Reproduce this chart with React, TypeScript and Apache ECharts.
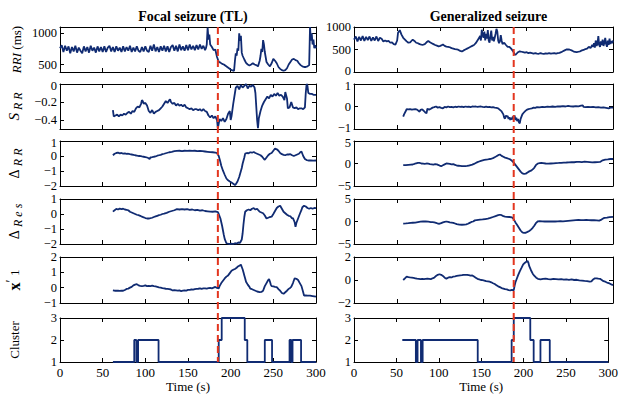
import React, { useEffect, useRef } from "react";
import * as echarts from "echarts";

// ---------------- data ----------------
const PANEL_TITLES = ["Focal seizure (TL)", "Generalized seizure"];
const SEIZURE_ONSET = 185;
const TIME_MIN = 0;
const TIME_MAX = 300;
const TIME_STEP = 50;

// Focal seizure (TL)
const focalRRI = [
  [0,760],[2,810],[4,700],[6,800],[8,720],[10,790],[12,680],[14,780],[16,710],[18,800],[20,690],[22,770],[24,720],[26,680],[28,790],[30,710],[32,780],[34,690],[36,800],[38,720],[40,770],[42,690],[44,790],[46,710],[48,780],[50,700],[52,790],[54,700],[56,770],[58,800],[60,710],[62,780],[64,700],[66,790],[68,720],[70,770],[72,700],[74,790],[76,710],[78,780],[80,720],[82,800],[84,700],[86,770],[88,710],[90,790],[92,720],[94,700],[96,780],[98,710],[100,790],[102,720],[104,700],[106,800],[108,720],[110,820],[112,710],[114,780],[116,700],[118,790],[120,720],[122,800],[124,710],[126,790],[128,700],[130,780],[132,810],[134,720],[136,800],[138,710],[140,820],[142,730],[144,790],[146,720],[148,810],[150,730],[152,820],[154,740],[156,800],[158,730],[160,810],[162,740],[164,820],[166,750],[168,800],[170,730],
  [171,760],[172,820],[173,1090],[174,900],[175,980],[176,820],[178,780],[180,730],[182,740],[184,620],[186,545],[188,530],[190,510],[192,500],[194,480],[196,460],[198,440],[200,420],[202,405],[204,400],[205,560],[206,680],[207,640],[208,760],[209,720],[210,1000],[211,880],[212,960],[213,690],[214,640],[216,580],[218,525],[220,500],[222,485],[224,500],[226,520],[228,500],[230,490],[232,470],[234,560],[235,640],[236,750],[237,700],[238,890],[239,820],[240,700],[241,620],[242,540],[244,500],[246,470],[248,520],[250,590],[252,560],[254,520],[256,460],[258,430],[260,410],[262,400],[264,410],[266,440],[268,500],[270,540],[272,580],[274,590],[276,570],[278,560],[280,520],[282,490],[284,470],[286,460],[288,460],[290,470],[292,490],[293,1100],[294,880],[295,1000],[296,820],[297,900],[298,760],[299,810],[300,760]
];
const focalSRR = [
  [62,-0.29],[63,-0.36],[65,-0.35],[67,-0.34],[69,-0.36],[71,-0.34],[73,-0.35],[75,-0.33],[77,-0.34],[79,-0.32],[81,-0.31],[83,-0.33],[85,-0.30],[87,-0.31],[89,-0.27],[91,-0.25],[93,-0.26],[95,-0.22],[96,-0.18],[97,-0.19],[98,-0.22],[100,-0.21],[102,-0.24],[104,-0.30],[106,-0.32],[108,-0.29],[110,-0.33],[112,-0.31],[114,-0.30],[116,-0.29],[118,-0.27],[120,-0.25],[122,-0.22],[124,-0.19],[126,-0.21],[128,-0.18],[129,-0.17],[130,-0.20],[132,-0.22],[134,-0.21],[136,-0.24],[138,-0.22],[140,-0.24],[142,-0.23],[144,-0.25],[146,-0.23],[148,-0.26],[150,-0.27],[152,-0.28],[154,-0.27],[156,-0.29],[158,-0.28],[160,-0.28],[162,-0.29],[164,-0.28],[166,-0.30],[168,-0.28],[170,-0.30],[172,-0.31],[174,-0.35],[176,-0.37],[178,-0.35],[180,-0.38],[182,-0.36],[184,-0.40],[185,-0.49],[186,-0.44],[187,-0.39],[189,-0.41],[191,-0.38],[193,-0.42],[195,-0.39],[197,-0.33],[199,-0.30],[200,-0.40],[201,-0.36],[203,-0.22],[205,-0.10],[206,-0.04],[208,-0.02],[210,-0.06],[212,-0.01],[214,-0.04],[216,-0.02],[218,0.0],[220,-0.05],[222,-0.02],[224,-0.03],[226,-0.01],[228,-0.04],[229,-0.10],[231,-0.40],[232,-0.49],[233,-0.38],[235,-0.30],[237,-0.24],[239,-0.20],[241,-0.17],[243,-0.14],[245,-0.16],[247,-0.12],[249,-0.14],[251,-0.11],[253,-0.13],[255,-0.10],[257,-0.13],[259,-0.12],[261,-0.14],[263,-0.18],[264,-0.09],[266,-0.16],[267,-0.27],[269,-0.26],[271,-0.20],[273,-0.26],[275,-0.27],[277,-0.26],[279,-0.28],[281,-0.27],[283,-0.27],[285,-0.28],[287,-0.26],[288,-0.10],[289,0.0],[290,-0.02],[291,-0.10],[293,-0.11],[295,-0.11],[297,-0.12],[300,-0.12]
];
const focalDRR = [
  [62,0.05],[64,0.15],[66,0.2],[68,0.22],[70,0.18],[72,0.2],[74,0.16],[76,0.17],[78,0.14],[80,0.15],[82,0.12],[84,0.1],[86,0.08],[88,0.05],[90,0.03],[92,0.0],[94,0.0],[96,-0.03],[98,-0.05],[100,-0.07],[102,-0.1],[104,-0.15],[105,-0.2],[106,-0.1],[108,-0.08],[110,-0.05],[112,-0.03],[114,0.02],[116,0.05],[118,0.08],[120,0.12],[122,0.15],[125,0.2],[128,0.25],[131,0.28],[134,0.32],[137,0.34],[140,0.35],[143,0.33],[146,0.35],[149,0.34],[152,0.36],[155,0.34],[158,0.35],[161,0.33],[164,0.34],[167,0.32],[170,0.3],[173,0.28],[176,0.26],[179,0.25],[182,0.23],[184,0.2],[186,0.0],[187.5,-0.3],[189,-0.65],[191,-0.98],[193,-1.25],[195,-1.5],[197,-1.62],[199,-1.7],[201,-1.77],[203,-1.85],[205,-1.93],[206,-1.88],[208,-1.7],[210,-1.4],[211,-1.2],[213,-0.8],[214,-0.52],[216,-0.1],[217,0.16],[219,0.2],[221,0.18],[223,0.25],[225,0.22],[227,0.27],[229,0.2],[231,0.15],[233,0.1],[235,0.05],[237,-0.05],[239,-0.2],[240,-0.25],[242,-0.1],[244,0.05],[246,0.15],[248,0.2],[250,0.35],[252,0.5],[254,0.45],[256,0.35],[258,0.2],[260,0.12],[262,0.08],[264,0.05],[266,0.1],[268,0.1],[270,0.12],[272,0.05],[274,0.0],[276,0.05],[278,0.1],[280,0.15],[282,0.27],[283,0.3],[284,0.15],[285,0.0],[287,-0.2],[289,-0.27],[291,-0.3],[294,-0.3],[297,-0.31],[300,-0.3]
];
const focalDRes = [
  [62,0.16],[64,0.25],[66,0.34],[68,0.3],[70,0.36],[72,0.33],[74,0.35],[76,0.3],[78,0.28],[80,0.25],[82,0.15],[84,0.1],[86,0.05],[88,0.0],[90,-0.05],[92,-0.08],[94,-0.12],[96,-0.18],[98,-0.22],[100,-0.27],[102,-0.3],[104,-0.3],[106,-0.28],[108,-0.25],[110,-0.2],[112,-0.16],[114,-0.12],[116,-0.08],[118,-0.05],[120,0.0],[122,0.03],[125,0.08],[128,0.15],[131,0.2],[134,0.25],[137,0.32],[140,0.3],[143,0.33],[146,0.3],[149,0.32],[152,0.28],[155,0.3],[158,0.25],[161,0.27],[164,0.22],[167,0.25],[170,0.2],[173,0.18],[176,0.16],[179,0.15],[182,0.17],[185,0.12],[186,0.0],[188,-0.3],[190,-0.8],[191,-1.1],[192,-1.4],[193,-1.66],[195,-1.95],[197,-1.98],[199,-2.0],[201,-1.97],[203,-2.0],[205,-1.95],[207,-1.97],[209,-1.9],[211,-1.92],[213,-1.7],[214,-1.3],[215,-0.7],[216,-0.2],[217,0.15],[219,0.25],[221,0.3],[223,0.25],[225,0.35],[227,0.39],[229,0.3],[231,0.35],[232,0.28],[234,0.15],[236,0.1],[238,0.05],[240,-0.1],[242,-0.3],[244,-0.25],[246,-0.2],[248,-0.18],[250,0.0],[252,0.2],[254,0.4],[256,0.5],[258,0.55],[260,0.35],[262,0.15],[264,0.05],[266,-0.05],[268,-0.12],[270,-0.15],[272,-0.3],[273,-0.28],[275,-0.55],[276,-0.86],[277,-0.6],[279,-0.3],[281,0.0],[283,0.27],[284,0.45],[286,0.55],[288,0.5],[290,0.4],[292,0.35],[294,0.4],[296,0.35],[298,0.4],[300,0.39]
];
const focalX1 = [
  [62,-0.18],[64,-0.2],[66,-0.19],[68,-0.2],[70,-0.21],[72,-0.2],[74,-0.2],[76,-0.15],[78,-0.08],[80,-0.06],[82,0.0],[84,0.05],[86,0.15],[88,0.2],[90,0.23],[92,0.15],[94,0.12],[96,0.1],[98,0.12],[100,0.15],[102,0.1],[104,0.12],[106,0.1],[108,0.13],[110,0.1],[112,0.08],[114,0.05],[116,0.02],[118,0.0],[120,-0.03],[122,-0.05],[124,-0.07],[126,-0.08],[128,-0.1],[130,-0.12],[132,-0.18],[134,-0.16],[136,-0.18],[138,-0.2],[140,-0.18],[142,-0.22],[144,-0.2],[146,-0.18],[148,-0.19],[150,-0.15],[152,-0.14],[154,-0.12],[156,-0.13],[158,-0.1],[160,-0.08],[162,-0.07],[164,-0.05],[166,-0.08],[168,-0.05],[170,-0.04],[172,-0.06],[174,-0.03],[176,-0.02],[178,-0.05],[180,0.0],[182,0.05],[184,-0.02],[186,-0.05],[187,0.1],[189,0.3],[191,0.45],[193,0.6],[195,0.72],[197,0.8],[199,0.95],[201,1.1],[203,1.17],[205,1.22],[207,1.3],[209,1.4],[211,1.45],[212,1.5],[213,1.35],[214,1.2],[215,1.0],[216,0.8],[217,0.6],[218,0.38],[220,0.2],[222,0.05],[223,-0.07],[225,-0.1],[227,-0.15],[229,-0.2],[231,-0.25],[234,-0.29],[236,-0.28],[238,-0.2],[240,0.1],[242,0.3],[244,0.5],[245,0.56],[246,0.4],[247,0.2],[248,0.1],[250,0.08],[252,0.05],[254,0.03],[256,-0.1],[258,-0.2],[260,-0.35],[262,-0.4],[264,-0.3],[266,-0.2],[268,-0.08],[270,0.0],[271,0.05],[273,0.3],[275,0.61],[277,0.58],[279,0.5],[281,0.3],[283,0.1],[285,-0.3],[286,-0.52],[288,-0.5],[290,-0.52],[293,-0.52],[296,-0.55],[300,-0.59]
];
const focalCluster = [
  [62,1],[87,2],[89.5,1],[91.5,2],[115.5,1],[186,2],[189.5,3],[216.5,2],[219.5,1],[240,2],[248.5,1],[269,2],[271,1],[272.5,2],[282.5,1],[300,1]
];

// Generalized seizure
const genRRI = [
  [0,720],[2,790],[4,680],[6,780],[8,700],[10,800],[12,690],[14,780],[16,710],[18,790],[20,690],[22,770],[24,700],[26,790],[28,690],[30,760],[32,740],[34,680],[36,700],[38,680],[40,690],[42,650],[44,660],[46,620],[48,610],[50,700],[51,870],[53,930],[55,830],[57,760],[59,720],[61,680],[63,650],[65,660],[67,700],[68,720],[70,690],[72,650],[74,640],[76,620],[78,610],[80,605],[82,620],[84,660],[86,690],[88,660],[90,640],[92,620],[94,600],[96,585],[98,570],[100,580],[102,600],[103,610],[105,580],[107,565],[109,560],[111,550],[113,530],[115,520],[117,510],[119,505],[121,490],[123,470],[125,455],[127,480],[129,500],[131,520],[133,540],[135,560],[137,580],[139,600],[141,640],[143,700],[145,760],[146,800],[147,700],[148,940],[149,820],[150,760],[151,900],[152,700],[153,850],[154,740],[155,930],[156,700],[157,650],[158,800],[159,920],[160,700],[161,780],[162,680],[163,760],[164,850],[165,960],[166,900],[167,700],[168,640],[169,680],[170,820],[171,700],[172,620],[174,650],[176,600],[178,560],[180,560],[182,520],[184,470],[186,400],[187,380],[188,400],[190,440],[192,460],[194,450],[196,440],[198,430],[200,440],[202,420],[204,430],[206,420],[208,410],[210,420],[212,410],[214,405],[216,420],[218,410],[220,405],[222,415],[224,410],[226,420],[228,410],[230,415],[232,420],[234,410],[236,420],[238,425],[240,440],[242,460],[244,480],[246,500],[248,505],[250,495],[252,480],[254,460],[256,445],[258,440],[260,450],[262,460],[264,480],[266,490],[268,510],[270,520],[272,560],[274,530],[276,600],[277,560],[278,640],[279,540],[280,700],[281,580],[282,620],[283,800],[284,600],[285,560],[286,680],[287,600],[288,720],[289,580],[290,650],[291,760],[292,620],[293,560],[294,700],[295,600],[296,740],[297,620],[298,690],[299,640],[300,700]
];
const genSRR = [
  [57,-0.45],[58,-0.35],[60,-0.2],[61,-0.12],[63,-0.13],[65,-0.12],[67,-0.14],[69,-0.13],[71,-0.12],[73,-0.14],[75,-0.2],[76,-0.23],[77,-0.15],[79,-0.13],[81,-0.2],[83,-0.28],[84,-0.3],[85,-0.1],[87,-0.14],[89,-0.1],[91,-0.05],[93,-0.03],[95,0.0],[97,-0.05],[99,-0.03],[101,-0.06],[103,-0.08],[105,-0.02],[107,-0.04],[109,0.0],[111,-0.03],[113,-0.02],[115,-0.04],[117,-0.01],[119,-0.03],[121,0.0],[123,-0.02],[125,-0.01],[127,-0.03],[129,0.0],[131,-0.02],[133,-0.01],[135,-0.03],[137,0.0],[139,-0.01],[141,0.0],[143,-0.02],[145,-0.01],[147,0.0],[149,-0.02],[151,-0.03],[153,-0.01],[155,-0.03],[157,-0.02],[159,-0.04],[161,-0.03],[163,-0.05],[165,-0.06],[167,-0.08],[169,-0.15],[171,-0.22],[173,-0.35],[174,-0.5],[175,-0.53],[176,-0.4],[177,-0.45],[178,-0.42],[179,-0.55],[180,-0.48],[181,-0.6],[182,-0.5],[183,-0.58],[184,-0.45],[185,-0.55],[186,-0.4],[187,-0.6],[188,-0.5],[189,-0.65],[190,-0.55],[191,-0.7],[192,-0.75],[193,-0.55],[194,-0.45],[195,-0.35],[196,-0.3],[198,-0.22],[200,-0.15],[202,-0.12],[204,-0.1],[206,-0.08],[208,-0.05],[210,-0.06],[212,-0.03],[215,-0.04],[218,-0.02],[221,-0.03],[224,-0.01],[227,-0.02],[230,0.0],[233,-0.02],[236,0.01],[239,0.0],[242,0.02],[245,0.0],[248,0.03],[251,0.01],[254,0.0],[257,0.02],[260,0.01],[263,0.04],[265,0.05],[266,-0.02],[268,-0.03],[271,-0.02],[274,-0.03],[277,-0.02],[280,-0.04],[283,-0.03],[286,-0.05],[289,-0.04],[292,-0.06],[295,-0.08],[297,-0.05],[300,-0.05]
];
const genDRR = [
  [57,-0.38],[60,-0.35],[63,-0.3],[66,-0.25],[68,-0.22],[70,-0.1],[72,0.05],[74,0.15],[76,0.12],[78,0.0],[80,-0.05],[82,-0.1],[84,0.0],[86,-0.05],[88,-0.15],[90,-0.2],[92,-0.25],[94,-0.15],[96,-0.2],[98,-0.35],[100,-0.55],[101,-0.6],[103,-0.4],[105,-0.2],[107,0.0],[109,-0.05],[111,-0.1],[113,-0.2],[115,-0.15],[117,-0.3],[119,-0.45],[121,-0.5],[123,-0.55],[125,-0.6],[127,-0.6],[129,-0.58],[131,-0.55],[133,-0.45],[135,-0.35],[137,-0.25],[139,-0.1],[141,0.1],[143,0.3],[145,0.45],[147,0.6],[149,0.7],[151,0.8],[153,0.85],[155,0.9],[157,1.0],[159,1.05],[161,1.2],[163,1.4],[165,1.6],[167,1.85],[169,2.0],[171,1.7],[173,1.5],[175,1.3],[177,1.2],[179,1.05],[181,0.9],[183,0.6],[185,0.2],[187,-0.3],[189,-0.8],[191,-1.3],[193,-1.8],[195,-2.2],[197,-2.3],[199,-2.25],[201,-2.0],[203,-1.75],[205,-1.6],[207,-1.3],[209,-0.9],[211,-0.3],[213,0.0],[215,0.1],[217,0.15],[219,0.1],[222,0.0],[225,-0.05],[228,0.0],[231,0.05],[234,0.1],[237,0.12],[240,0.15],[243,0.2],[246,0.22],[249,0.25],[252,0.3],[255,0.28],[258,0.35],[261,0.38],[264,0.32],[267,0.4],[270,0.35],[273,0.3],[276,0.25],[279,0.28],[282,0.3],[285,0.35],[288,0.7],[291,0.85],[294,0.9],[297,1.0],[300,1.0]
];
const genDRes = [
  [57,-0.45],[60,-0.42],[63,-0.38],[66,-0.3],[68,-0.28],[71,-0.25],[74,-0.15],[77,-0.05],[80,0.0],[83,0.0],[86,-0.05],[89,-0.12],[91,-0.15],[93,-0.2],[95,-0.3],[97,-0.45],[99,-0.5],[101,-0.35],[103,-0.2],[105,-0.1],[107,0.0],[109,-0.1],[111,-0.2],[113,-0.25],[115,-0.3],[117,-0.45],[119,-0.6],[122,-0.7],[125,-0.72],[128,-0.68],[130,-0.65],[132,-0.5],[134,-0.3],[136,-0.1],[138,0.0],[140,0.25],[142,0.3],[144,0.35],[146,0.4],[149,0.45],[152,0.55],[155,0.65],[158,0.8],[161,1.0],[164,1.2],[167,1.4],[169,1.5],[171,1.4],[173,1.2],[175,1.1],[177,1.05],[180,1.0],[183,0.9],[185,0.5],[187,-0.2],[189,-0.8],[191,-1.4],[193,-2.0],[195,-2.4],[197,-2.55],[199,-2.5],[201,-2.3],[203,-2.1],[205,-1.8],[207,-1.4],[209,-0.9],[211,-0.3],[213,0.05],[215,0.1],[218,0.05],[221,0.0],[224,0.0],[227,0.0],[230,0.05],[233,0.0],[236,0.05],[239,0.1],[242,0.05],[245,0.1],[248,0.15],[251,0.2],[254,0.25],[257,0.3],[260,0.35],[263,0.3],[266,0.32],[269,0.35],[272,0.3],[275,0.28],[278,0.3],[281,0.25],[284,0.2],[286,0.35],[288,0.6],[290,0.8],[293,0.85],[296,0.95],[300,1.05]
];
const genX1 = [
  [57,0.0],[59,0.15],[61,0.3],[63,0.25],[65,0.22],[67,0.2],[69,0.18],[71,0.15],[73,0.12],[75,0.1],[77,0.08],[79,0.1],[81,0.08],[83,0.1],[85,0.12],[87,0.1],[89,0.08],[91,0.15],[93,0.2],[95,0.35],[97,0.45],[99,0.5],[101,0.45],[103,0.35],[105,0.2],[107,0.12],[109,0.2],[111,0.25],[113,0.22],[115,0.3],[117,0.32],[119,0.35],[121,0.38],[123,0.4],[125,0.42],[127,0.45],[129,0.44],[131,0.45],[133,0.42],[135,0.38],[137,0.4],[139,0.3],[141,0.2],[143,0.1],[145,0.05],[147,0.0],[149,-0.02],[151,-0.05],[153,-0.1],[155,-0.12],[157,-0.15],[159,-0.2],[161,-0.28],[163,-0.35],[165,-0.45],[167,-0.55],[169,-0.62],[171,-0.7],[173,-0.75],[175,-0.8],[177,-0.82],[179,-0.88],[181,-0.9],[183,-0.85],[185,-0.9],[186,-0.5],[187,-0.2],[188,0.0],[190,0.4],[192,0.75],[194,1.05],[196,1.36],[198,1.5],[200,1.6],[201,1.65],[202,1.5],[203,1.2],[205,0.85],[207,0.55],[209,0.35],[211,0.2],[213,0.1],[216,0.05],[219,0.1],[222,0.12],[225,0.08],[228,0.05],[231,0.1],[234,0.08],[237,0.05],[240,0.08],[243,0.03],[246,0.05],[249,0.02],[252,0.05],[255,0.0],[258,0.02],[261,-0.03],[264,-0.05],[267,-0.08],[270,-0.1],[273,-0.15],[275,-0.12],[277,0.05],[279,0.15],[281,0.15],[283,0.12],[285,0.1],[287,0.0],[289,-0.1],[291,-0.15],[293,-0.22],[296,-0.3],[298,-0.38],[300,-0.45]
];
const genCluster = [
  [57,2],[73,1],[75,2],[79,1],[81,2],[146,1],[186,2],[188.5,3],[208,2],[212,1],[220,2],[231,1],[300,1]
];

const FOCAL_SERIES = [focalRRI, focalSRR, focalDRR, focalDRes, focalX1, focalCluster];
const GEN_SERIES = [genRRI, genSRR, genDRR, genDRes, genX1, genCluster];

const FOCAL_Y_RANGE = [[380, 1100], [-0.5, 0], [-2, 1], [-2, 1], [-1, 2], [1, 3]];
const FOCAL_Y_TICKS = [[500, 1000], [-0.4, -0.2, 0], [-2, -1, 0, 1], [-2, -1, 0, 1], [-1, 0, 1, 2], [1, 2, 3]];
const GEN_Y_RANGE = [[0, 1000], [-1, 1], [-5, 5], [-5, 5], [-2, 2], [1, 3]];
const GEN_Y_TICKS = [[0, 500, 1000], [-1, 0, 1], [-5, 0, 5], [-5, 0, 5], [-2, 0, 2], [1, 2, 3]];

const Y_NAMES = [
  "{i|RRI} {n|(ms)}",
  "{big|S}{sub| R R}",
  "{d|\u0394} {sub|R R}",
  "{d|\u0394} {sub|R e s}",
  "{bx|x}{pr|\u2032} {n|1}",
  "{n|Cluster}",
];

// ---------------- layout / style ----------------
const FONT = "'Liberation Serif', 'Times New Roman', serif";
const LINE_COLOR = "#102b72";
const ONSET_COLOR = "#e3361f";
const COL_LEFT = [60, 354];
const COL_WIDTH = [256, 259];
const ROW_TOP = [27, 84, 141, 199, 257, 318];
const ROW_H = [45, 45, 45, 45, 46, 44];
const TICK_FONT = 12.5;

const fmt = (v: number) => String(v).replace("-", "\u2212");

export default function App() {
  const ref = useRef<HTMLDivElement>(null);
  useEffect(() => {
    document.body.style.margin = "0";
    if (!ref.current) return;
    const chart = echarts.init(ref.current, undefined, { renderer: "svg" });

    const grids: any[] = [];
    const xAxes: any[] = [];
    const yAxes: any[] = [];
    const series: any[] = [];
    const rich = {
      i: { fontFamily: FONT, fontStyle: "italic", fontSize: 13, lineHeight: 16, color: "#000" },
      n: { fontFamily: FONT, fontSize: 13, lineHeight: 16, color: "#000" },
      d: { fontFamily: FONT, fontSize: 14, lineHeight: 20, color: "#000" },
      big: { fontFamily: FONT, fontStyle: "italic", fontSize: 15, lineHeight: 20, color: "#000" },
      sub: { fontFamily: FONT, fontStyle: "italic", fontSize: 12, lineHeight: 13, verticalAlign: "bottom", color: "#000" },
      bx: { fontFamily: FONT, fontWeight: "bold", fontSize: 16, lineHeight: 20, color: "#000" },
      pr: { fontFamily: FONT, fontSize: 14, lineHeight: 20, verticalAlign: "top", color: "#000" },
    };
    const tickRich = {
      dn: { fontFamily: FONT, fontSize: TICK_FONT, color: "#000", lineHeight: 11, padding: [3, 0, 0, 0] },
      up: { fontFamily: FONT, fontSize: TICK_FONT, color: "#000", lineHeight: 11, padding: [0, 0, 3, 0] },
    };

    for (let c = 0; c < 2; c++) {
      const data = c === 0 ? FOCAL_SERIES : GEN_SERIES;
      const ranges = c === 0 ? FOCAL_Y_RANGE : GEN_Y_RANGE;
      const ticks = c === 0 ? FOCAL_Y_TICKS : GEN_Y_TICKS;
      for (let r = 0; r < 6; r++) {
        const i = c * 6 + r;
        grids.push({ left: COL_LEFT[c], width: COL_WIDTH[c], top: ROW_TOP[r], height: ROW_H[r] });
        const baseX = {
          type: "value",
          gridIndex: i,
          min: TIME_MIN,
          max: TIME_MAX,
          interval: TIME_STEP,
          axisLine: { show: true, onZero: false, lineStyle: { color: "#000", width: 1 } },
          axisTick: { show: true, inside: true, length: 4, lineStyle: { color: "#000", width: 1 } },
          splitLine: { show: false },
        };
        xAxes.push({
          ...baseX,
          position: "bottom",
          axisLabel: { show: r === 5, color: "#000", fontFamily: FONT, fontSize: 13, margin: 4 },
          name: r === 5 ? "Time (s)" : "",
          nameLocation: "middle",
          nameGap: 17,
          nameTextStyle: { color: "#000", fontFamily: FONT, fontSize: 13 },
        });
        xAxes.push({ ...baseX, position: "top", axisLabel: { show: false } });
        const baseY = {
          type: "value",
          gridIndex: i,
          min: ranges[r][0],
          max: ranges[r][1],
          axisLine: { show: true, onZero: false, lineStyle: { color: "#000", width: 1 } },
          axisTick: { show: true, inside: true, length: 4, customValues: ticks[r], lineStyle: { color: "#000", width: 1 } },
          splitLine: { show: false },
        };
        const lo = ranges[r][0];
        const hi = ranges[r][1];
        yAxes.push({
          ...baseY,
          position: "left",
          axisLabel: {
            show: true, customValues: ticks[r], color: "#000",
            fontFamily: FONT, fontSize: TICK_FONT, lineHeight: 11, margin: 3,
            formatter: (v: number) => {
              // nudge the labels that sit where two stacked panels meet closely
              if (v === lo && (r === 0 || r === 1)) return `{up|${fmt(v)}}`;
              if (v === hi && (r === 1 || r === 2)) return `{dn|${fmt(v)}}`;
              return fmt(v);
            },
            rich: tickRich,
          },
          name: c === 0 ? Y_NAMES[r] : "",
          nameLocation: "middle",
          nameRotate: 90,
          nameGap: r === 5 ? 38 : 36,
          nameTextStyle: { rich },
        });
        yAxes.push({ ...baseY, position: "right", axisLabel: { show: false } });
        series.push({
          type: "line",
          xAxisIndex: 2 * i,
          yAxisIndex: 2 * i,
          data: data[r],
          showSymbol: false,
          step: r === 5 ? "end" : false,
          lineStyle: { color: LINE_COLOR, width: 1.8 },
          z: 2,
        });
      }
    }

    chart.setOption({
      animation: false,
      backgroundColor: "#fff",
      title: PANEL_TITLES.map((t, c) => ({
        text: t,
        left: COL_LEFT[c] + COL_WIDTH[c] / 2,
        top: 4,
        textAlign: "center",
        textStyle: { fontFamily: FONT, fontWeight: "bold", fontSize: 14, color: "#000" },
      })),
      grid: grids,
      xAxis: xAxes,
      yAxis: yAxes,
      series,
    });

    // seizure-onset dashed lines through each column, positioned through the axes' scales
    const graphics: any[] = [];
    for (let c = 0; c < 2; c++) {
      const ranges = c === 0 ? FOCAL_Y_RANGE : GEN_Y_RANGE;
      const topPanel = c * 6;
      const botPanel = c * 6 + 5;
      const x = chart.convertToPixel({ xAxisIndex: 2 * topPanel }, SEIZURE_ONSET) as number;
      const y1 = chart.convertToPixel({ yAxisIndex: 2 * topPanel }, ranges[0][1]) as number;
      const y2 = chart.convertToPixel({ yAxisIndex: 2 * botPanel }, ranges[5][0]) as number;
      graphics.push({
        type: "line",
        shape: { x1: x, y1, x2: x, y2 },
        style: { stroke: ONSET_COLOR, lineWidth: 2, lineDash: [7, 4] },
        z: 100,
      });
    }
    chart.setOption({ graphic: graphics });

    return () => chart.dispose();
  }, []);
  return <div ref={ref} style={{ width: 621, height: 395 }} />;
}
